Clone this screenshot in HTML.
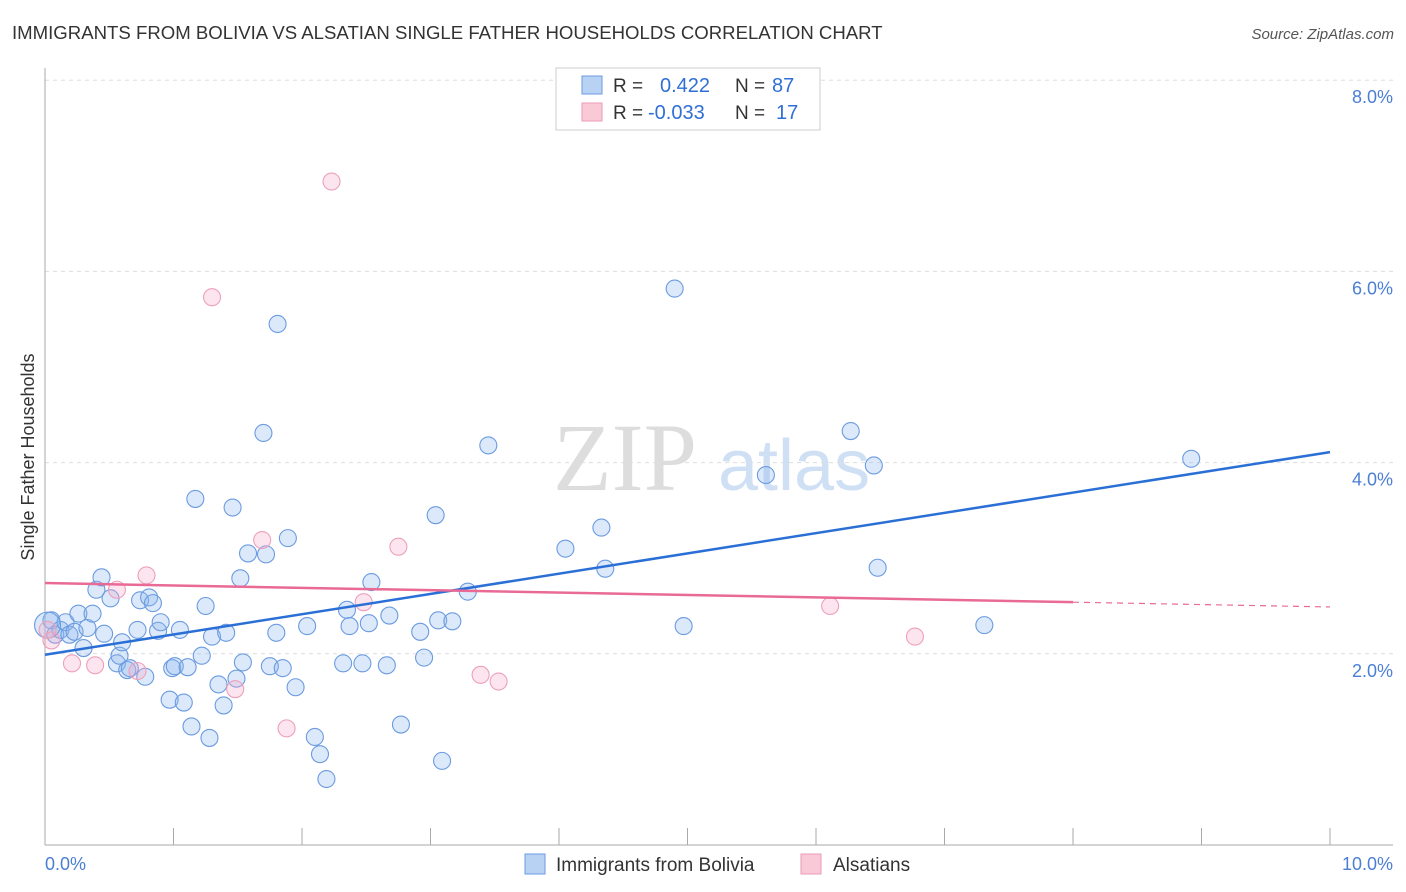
<!DOCTYPE html>
<html><head><meta charset="utf-8"><style>
body{margin:0;background:#fff;font-family:"Liberation Sans",sans-serif;}
svg{display:block}
</style></head><body>
<svg id="chart" width="1406" height="892">
<text x="12" y="39" font-size="18.6" fill="#333">IMMIGRANTS FROM BOLIVIA VS ALSATIAN SINGLE FATHER HOUSEHOLDS CORRELATION CHART</text>
<text x="1394" y="39" font-size="15" fill="#555" font-style="italic" text-anchor="end">Source: ZipAtlas.com</text>
<text x="553" y="490" font-size="96" fill="#ddd" font-family="Liberation Serif,serif">ZIP</text>
<text x="718" y="490" font-size="72" fill="#cfe0f5">atlas</text>
<g id="grid"></g>
<line x1="45" y1="68" x2="45" y2="845" stroke="#aaa"/>
<line x1="45" y1="845" x2="1393" y2="845" stroke="#aaa"/>
<g id="xticks"></g>
<text x="45" y="870" font-size="18" fill="#4a7fd4">0.0%</text>
<text x="1393" y="870" font-size="18" fill="#4a7fd4" text-anchor="end">10.0%</text>
<text transform="translate(34,457) rotate(-90)" font-size="18" fill="#333" text-anchor="middle">Single Father Households</text>
<g id="pts"></g>
<g id="lines"></g>
<g>
<rect x="556" y="68" width="264" height="62" fill="#fff" stroke="#ccc"/>
<rect x="582" y="76" width="20" height="18" fill="#b8d2f4" stroke="#6b9be0"/>
<rect x="582" y="103" width="20" height="18" fill="#f9c9d8" stroke="#ec9ab6"/>
<text x="613" y="92" font-size="19" fill="#333">R = </text><text x="660" y="92" font-size="20" fill="#2f6fd6">0.422</text>
<text x="735" y="92" font-size="19" fill="#333">N = </text><text x="772" y="92" font-size="20" fill="#2f6fd6">87</text>
<text x="613" y="119" font-size="19" fill="#333">R = </text><text x="648" y="119" font-size="20" fill="#2f6fd6">-0.033</text>
<text x="735" y="119" font-size="19" fill="#333">N = </text><text x="776" y="119" font-size="20" fill="#2f6fd6">17</text>
</g>
<g>
<rect x="525" y="854" width="20" height="20" fill="#b8d2f4" stroke="#6b9be0"/>
<text x="556" y="871" font-size="19" fill="#333">Immigrants from Bolivia</text>
<rect x="801" y="854" width="20" height="20" fill="#f9c9d8" stroke="#ec9ab6"/>
<text x="833" y="871" font-size="19" fill="#333">Alsatians</text>
</g>
</svg>
<script>
const yTicks=[2,4,6,8];
const yTickLabels=["2.0%","4.0%","6.0%","8.0%"];
const xTicks=[1,2,3,4,5,6,7,8,9,10];
const blueX=[0.05,0.08,0.12,0.16,0.19,0.23,0.26,0.30,0.33,0.37,0.40,0.44,0.46,0.51,0.56,0.58,0.60,0.64,0.66,0.72,0.74,0.78,0.81,0.84,0.88,0.90,0.97,0.99,1.01,1.05,1.08,1.11,1.14,1.17,1.22,1.25,1.28,1.30,1.35,1.39,1.41,1.46,1.49,1.52,1.54,1.58,1.70,1.72,1.75,1.80,1.81,1.85,1.89,1.95,2.04,2.10,2.14,2.19,2.32,2.35,2.37,2.47,2.52,2.54,2.66,2.68,2.77,2.92,2.95,3.04,3.06,3.09,3.17,3.29,3.45,4.05,4.33,4.36,4.90,4.97,5.61,6.27,6.45,6.48,7.31,8.92,0.02];
const blueY=[2.35,2.20,2.25,2.33,2.20,2.23,2.42,2.06,2.27,2.42,2.67,2.80,2.21,2.58,1.90,1.98,2.12,1.83,1.85,2.25,2.56,1.76,2.59,2.53,2.24,2.33,1.52,1.85,1.87,2.25,1.49,1.86,1.24,3.62,1.98,2.50,1.12,2.18,1.68,1.46,2.22,3.53,1.74,2.79,1.91,3.05,4.31,3.04,1.87,2.22,5.45,1.85,3.21,1.65,2.29,1.13,0.95,0.69,1.90,2.46,2.29,1.90,2.32,2.75,1.88,2.40,1.26,2.23,1.96,3.45,2.35,0.88,2.34,2.65,4.18,3.10,3.32,2.89,5.82,2.29,3.87,4.33,3.97,2.90,2.30,4.04,2.30];
const pinkX=[0.05,0.21,0.39,0.56,0.72,0.79,1.30,1.48,1.69,1.88,2.23,2.48,2.75,3.39,3.53,6.11,6.77,0.02];
const pinkY=[2.14,1.90,1.88,2.67,1.82,2.82,5.73,1.63,3.19,1.22,6.94,2.54,3.12,1.78,1.71,2.50,2.18,2.25];
const blueFit=[1.99,4.11];
const pinkFit=[2.74,2.49];
const pinkSolidEnd=8;
const X=v=>45+v*128.5, Y=v=>845-v*95.6;
const NS="http://www.w3.org/2000/svg";
function mk(t,a,p){const e=document.createElementNS(NS,t);for(const k in a)e.setAttribute(k,a[k]);p.appendChild(e);return e;}
const grid=document.getElementById('grid');
yTicks.forEach((t,i)=>{
 const l=mk('line',{x1:45,x2:1393,y1:Y(t),y2:Y(t),stroke:'#ddd','stroke-dasharray':'4,4'},grid);
 
 
 const tx=mk('text',{x:1393,y:Y(t)+23,'font-size':18,fill:'#4a7fd4','text-anchor':'end'},grid);
 tx.textContent=yTickLabels[i];
 
 
});
const xt=document.getElementById('xticks');
xTicks.forEach(t=>{
 const l=mk('line',{x1:X(t),x2:X(t),y1:828,y2:845,stroke:'#aaa'},xt);
 
 
});
const pts=document.getElementById('pts');
blueX.forEach((x,i)=>{
 const c=mk('circle',{cx:X(x),cy:Y(blueY[i]),r:i===blueX.length-1?13:8.5,fill:'rgba(140,182,238,0.3)',stroke:'#6b9be0','stroke-width':1.1},pts);
 
 
});
pinkX.forEach((x,i)=>{
 const c=mk('circle',{cx:X(x),cy:Y(pinkY[i]),r:8.5,fill:'rgba(245,170,198,0.3)',stroke:'#eda0bb','stroke-width':1.1},pts);
 
 
});
const ln=document.getElementById('lines');
const b=mk('line',{x1:X(0),y1:Y(blueFit[0]),x2:X(10),y2:Y(blueFit[1]),stroke:'#2a6fd6','stroke-width':2.5},ln);


const pm=v=>pinkFit[0]+(pinkFit[1]-pinkFit[0])*v/10;
const p=mk('line',{x1:X(0),y1:Y(pm(0)),x2:X(pinkSolidEnd),y2:Y(pm(pinkSolidEnd)),stroke:'#e86a95','stroke-width':2.5},ln);


const pd=mk('line',{x1:X(pinkSolidEnd),y1:Y(pm(pinkSolidEnd)),x2:X(10),y2:Y(pm(10)),stroke:'#e86a95','stroke-width':1.2,'stroke-dasharray':'6,5'},ln);


</script>
</body></html>
